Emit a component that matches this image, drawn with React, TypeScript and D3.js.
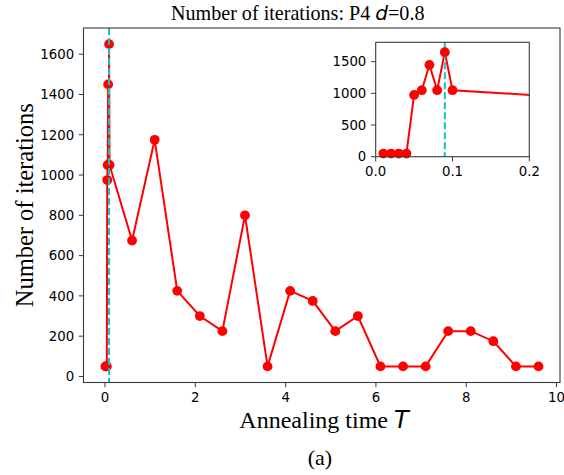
import React from "react";
import * as d3 from "d3";

const annealT = [0.01, 0.02, 0.03, 0.04, 0.05, 0.06, 0.07, 0.08, 0.09, 0.1, 0.6, 1.1, 1.6, 2.1, 2.6, 3.1, 3.6, 4.1, 4.6, 5.1, 5.6, 6.1, 6.6, 7.1, 7.6, 8.1, 8.6, 9.1, 9.6];
const iterations = [50, 50, 50, 50, 975, 1050, 1450, 1050, 1650, 1050, 675, 1175, 425, 300, 225, 800, 50, 425, 375, 225, 300, 50, 50, 50, 225, 225, 175, 50, 50];
const optimalT = 0.09;
const mainXTicks = [0, 2, 4, 6, 8, 10];
const mainYTicks = [0, 200, 400, 600, 800, 1000, 1200, 1400, 1600];
const insetXTicks = [0, 0.1, 0.2];
const insetYTicks = [0, 500, 1000, 1500];

const SERIF = "'Liberation Serif', 'Times New Roman', serif";
const SANS = "'DejaVu Sans', sans-serif";
const SPINE = "#3a3a3a";

export default function App() {
  const W = 564, H = 475;
  const m = { l: 83.5, r: 560, t: 28, b: 382.5 };
  const x = d3.scaleLinear().domain([-0.476, 10.076]).range([m.l, m.r]);
  const y = d3.scaleLinear().domain([-30, 1730]).range([m.b, m.t]);
  const data = annealT.map((t, i) => [t, iterations[i]] as [number, number]);
  const line = d3.line<[number, number]>().x(d => x(d[0])).y(d => y(d[1]));

  const ins = { l: 375.7, r: 529.3, t: 42.3, b: 156.7 };
  const xi = d3.scaleLinear().domain([0, 0.2]).range([ins.l, ins.r]);
  const yi = d3.scaleLinear().domain([0, 1806]).range([ins.b, ins.t]);
  const lineI = d3.line<[number, number]>().x(d => xi(d[0])).y(d => yi(d[1]));
  const insData = data.filter(d => d[0] <= 0.2);

  const tickLen = 4.7;
  return (
    <svg width={W} height={H} style={{ position: "absolute", left: 0, top: 0, background: "#fff" }}>
      <rect x={0} y={0} width={W} height={H} fill="#fff" />
      <defs>
        <clipPath id="mainClip"><rect x={m.l} y={m.t} width={m.r - m.l} height={m.b - m.t} /></clipPath>
        <clipPath id="insClip"><rect x={ins.l} y={ins.t} width={ins.r - ins.l} height={ins.b - ins.t} /></clipPath>
      </defs>
      <g clipPath="url(#mainClip)">
        <path d={line(data) || ""} fill="none" stroke="#ff0000" strokeWidth={2} />
        {data.map((d, i) => (
          <circle key={i} cx={x(d[0])} cy={y(d[1])} r={4.9} fill="#ff0000" />
        ))}
        <line x1={x(optimalT)} x2={x(optimalT)} y1={m.t} y2={m.b} stroke="#17bfbf" strokeWidth={2} strokeDasharray="7,3" />
      </g>
      <rect x={m.l} y={m.t} width={m.r - m.l} height={m.b - m.t} fill="none" stroke={SPINE} strokeWidth={1.1} />
      {mainXTicks.map(t => (
        <g key={t} transform={`translate(${x(t)},${m.b})`}>
          <line y1={0} y2={tickLen} stroke={SPINE} strokeWidth={1} />
          <text y={tickLen + 4.7} dy="0.76em" textAnchor="middle" fontFamily={SANS} fontSize={13.3} fill="#000">{t}</text>
        </g>
      ))}
      {mainYTicks.map(t => (
        <g key={t} transform={`translate(${m.l},${y(t)})`}>
          <line x1={0} x2={-tickLen} stroke={SPINE} strokeWidth={1} />
          <text x={-tickLen - 4.7} dy="0.36em" textAnchor="end" fontFamily={SANS} fontSize={13.3} fill="#000">{t}</text>
        </g>
      ))}
      <text x={171} y={19.5} fontFamily={SERIF} fontSize={20.1} fill="#000">
        Number of iterations: P4 <tspan fontFamily={SANS} fontStyle="italic">d</tspan>=0.8
      </text>
      <text x={324} y={428} textAnchor="middle" fontFamily={SERIF} fontSize={24} fill="#000">
        Annealing time <tspan fontFamily={SANS} fontStyle="italic">T</tspan>
      </text>
      <text transform={`translate(33,${(m.t + m.b) / 2}) rotate(-90)`} textAnchor="middle" fontFamily={SERIF} fontSize={24.5} fill="#000">
        Number of iterations
      </text>
      <text x={320} y={465} textAnchor="middle" fontFamily={SERIF} fontSize={22} fill="#000">(a)</text>

      {/* inset */}
      <rect x={ins.l} y={ins.t} width={ins.r - ins.l} height={ins.b - ins.t} fill="#fff" />
      <g clipPath="url(#insClip)">
        <path d={lineI(data.filter(d => d[0] <= 0.6)) || ""} fill="none" stroke="#ff0000" strokeWidth={2} />
        <line x1={xi(optimalT)} x2={xi(optimalT)} y1={ins.t} y2={ins.b} stroke="#17bfbf" strokeWidth={2} strokeDasharray="7,3" />
      </g>
      {insData.map((d, i) => (
        <circle key={i} cx={xi(d[0])} cy={yi(d[1])} r={4.9} fill="#ff0000" />
      ))}
      <rect x={ins.l} y={ins.t} width={ins.r - ins.l} height={ins.b - ins.t} fill="none" stroke={SPINE} strokeWidth={1.1} />
      {insetXTicks.map(t => (
        <g key={t} transform={`translate(${xi(t)},${ins.b})`}>
          <line y1={0} y2={tickLen} stroke={SPINE} strokeWidth={1} />
          <text y={tickLen + 4.7} dy="0.76em" textAnchor="middle" fontFamily={SANS} fontSize={13.3} fill="#000">{t.toFixed(1)}</text>
        </g>
      ))}
      {insetYTicks.map(t => (
        <g key={t} transform={`translate(${ins.l},${yi(t)})`}>
          <line x1={0} x2={-tickLen} stroke={SPINE} strokeWidth={1} />
          <text x={-tickLen - 4.7} dy="0.36em" textAnchor="end" fontFamily={SANS} fontSize={13.3} fill="#000">{t}</text>
        </g>
      ))}
    </svg>
  );
}
